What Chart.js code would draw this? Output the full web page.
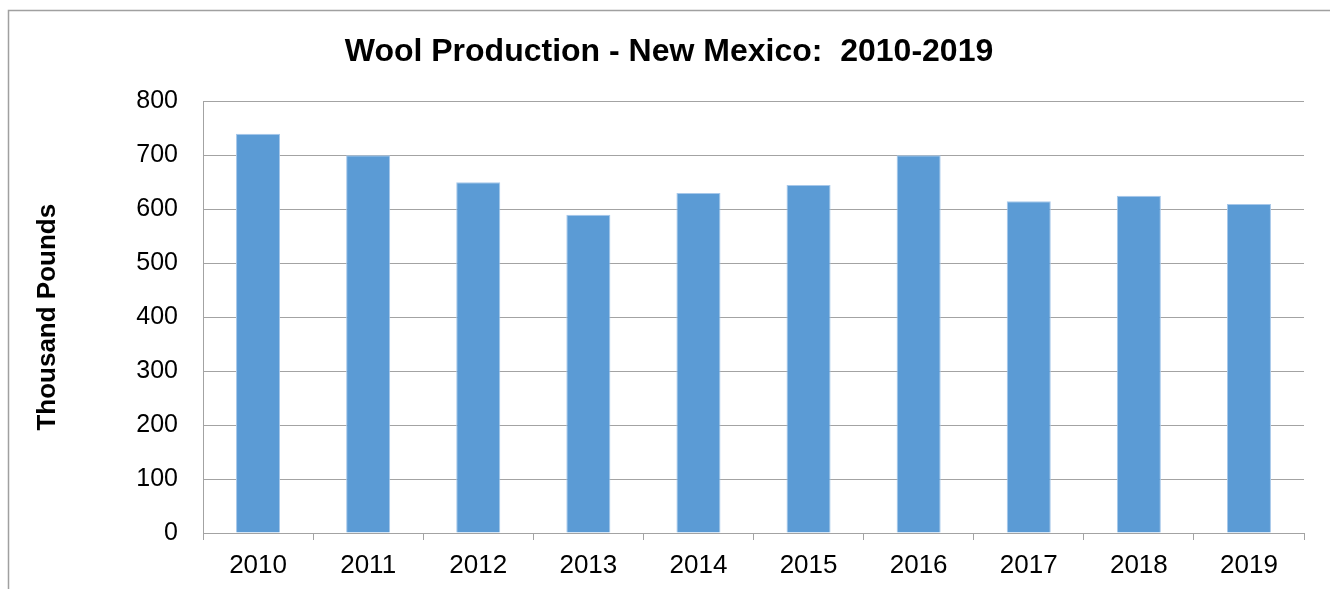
<!DOCTYPE html>
<html>
<head>
<meta charset="utf-8">
<script src="https://cdn.jsdelivr.net/npm/chart.js@4/dist/chart.umd.min.js"></script>
<style>
  html, body { margin: 0; padding: 0; background: #fff; }
  #wrap { width: 1330px; height: 589px; position: relative; }
</style>
</head>
<body>
<div id="wrap"><canvas id="woolChart"></canvas></div>
<script>
const years = ["2010", "2011", "2012", "2013", "2014", "2015", "2016", "2017", "2018", "2019"];
const production = [740, 700, 650, 590, 630, 645, 700, 615, 625, 610];
const yMin = 0;
const yMax = 800;
const yStep = 100;

const gridGray = "#A3A3A3";
const fontFamily = "'Liberation Sans', Arial, sans-serif";

// outer chart frame (only top and left edges show in the picture)
const framePlugin = {
    id: "frame",
    beforeDraw(chart) {
        const c = chart.ctx;
        c.save();
        c.fillStyle = "#fff";
        c.fillRect(0, 0, chart.width, chart.height);
        c.strokeStyle = "#A0A0A0";
        c.lineWidth = 1.5;
        c.beginPath();
        c.moveTo(8.5, chart.height);
        c.lineTo(8.5, 10.5);
        c.lineTo(chart.width, 10.5);
        c.stroke();
        c.restore();
    }
};

const ctx = document.getElementById("woolChart");
new Chart(ctx, {
    type: "bar",
    data: {
        labels: years,
        datasets: [{
            label: "Thousand Pounds",
            data: production,
            backgroundColor: "#5B9BD5",
            borderColor: "#A7C8EA",
            borderWidth: 1,
            barPercentage: 0.4,
            categoryPercentage: 1.0,
            yAxisID: "y"
        }]
    },
    options: {
        responsive: true,
        maintainAspectRatio: false,
        animation: false,
        layout: {
            padding: { left: 8, right: 0, top: 0, bottom: 0 }
        },
        scales: {
            x: {
                afterFit: s => { s.height = 56; },
                grid: {
                    drawOnChartArea: false,
                    drawTicks: true,
                    tickLength: 7,
                    color: gridGray,
                    lineWidth: 1
                },
                border: { color: gridGray, width: 1 },
                ticks: {
                    color: "#000",
                    padding: 10,
                    font: { family: fontFamily, size: 26 }
                }
            },
            y: {
                position: "left",
                min: yMin,
                max: yMax,
                afterFit: s => { s.width = 195; },
                grid: {
                    drawTicks: false,
                    color: gridGray,
                    lineWidth: 1
                },
                border: { color: gridGray, width: 1 },
                ticks: {
                    stepSize: yStep,
                    color: "#000",
                    padding: 25,
                    font: { family: fontFamily, size: 25 }
                },
                title: {
                    display: true,
                    text: "Thousand Pounds",
                    color: "#000",
                    padding: { top: 24, bottom: 0 },
                    font: { family: fontFamily, size: 26, weight: "bold" }
                }
            },
            yRight: {
                type: "linear",
                position: "right",
                afterFit: s => { s.width = 26; },
                grid: { display: false },
                border: { display: false },
                ticks: { display: false }
            }
        },
        plugins: {
            legend: { display: false },
            tooltip: { enabled: false },
            title: {
                display: true,
                text: "Wool Production - New Mexico:  2010-2019",
                color: "#000",
                padding: { top: 33, bottom: 30 },
                font: { family: fontFamily, size: 32, weight: "bold" }
            }
        }
    },
    plugins: [framePlugin]
});
</script>
</body>
</html>
